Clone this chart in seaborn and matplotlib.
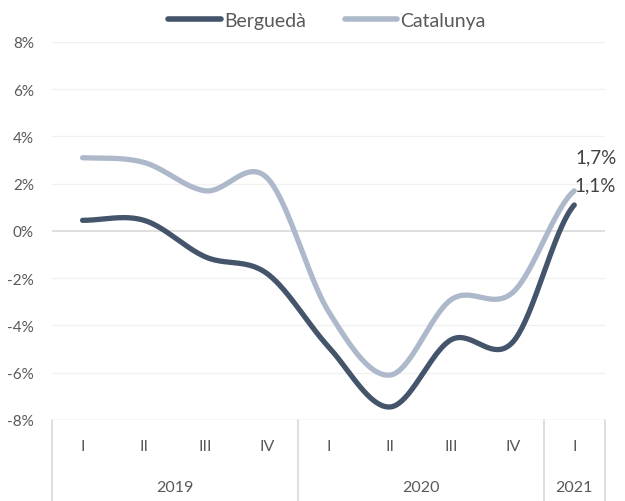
import numpy as np
import pandas as pd
import matplotlib
matplotlib.use("Agg")
import matplotlib.pyplot as plt
import seaborn as sns
from matplotlib.transforms import blended_transform_factory
from matplotlib.lines import Line2D

quarters = ["I", "II", "III", "IV", "I", "II", "III", "IV", "I"]
years = ["2019", "2020", "2021"]
year_counts = [4, 4, 1]
bergueda = [0.45, 0.45, -1.1, -1.8, -4.9, -7.45, -4.6, -4.7, 1.1]
catalunya = [3.1, 2.9, 1.7, 2.25, -3.4, -6.1, -2.9, -2.6, 1.7]
series_names = ["Berguedà", "Catalunya"]
colors = ["#44546A", "#ADB9CA"]
end_labels = ["1,1%", "1,7%"]
yticks = [-8, -6, -4, -2, 0, 2, 4, 6, 8]


def smooth(y, n=40):
    # Catmull-Rom style smoothing similar to Excel smoothed lines
    y = np.asarray(y, float)
    x = np.arange(len(y), dtype=float)
    xs, ys = [], []
    for i in range(len(y) - 1):
        p0 = y[i - 1] if i > 0 else y[i]
        p1, p2 = y[i], y[i + 1]
        p3 = y[i + 2] if i + 2 < len(y) else y[i + 1]
        t = np.linspace(0, 1, n, endpoint=(i == len(y) - 2))
        c1 = p1 + (p2 - p0) / 6
        c2 = p2 - (p3 - p1) / 6
        yy = (1 - t) ** 3 * p1 + 3 * (1 - t) ** 2 * t * c1 + 3 * (1 - t) * t ** 2 * c2 + t ** 3 * p2
        xs.append(x[i] + t)
        ys.append(yy)
    return np.concatenate(xs), np.concatenate(ys)


sns.set_theme(style="white")
plt.rcParams["font.family"] = ["Lato", "DejaVu Sans"]

fig = plt.figure(figsize=(6.25, 5.02), dpi=100)
ax = fig.add_axes([0.083, 0.1614, 0.885, 0.753])

frames = []
for name, vals in zip(series_names, [bergueda, catalunya]):
    xs, ys = smooth(vals)
    frames.append(pd.DataFrame({"x": xs, "y": ys, "serie": name}))
df = pd.concat(frames, ignore_index=True)

sns.lineplot(data=df, x="x", y="y", hue="serie", palette=colors, linewidth=3.8,
             ax=ax, sort=False, estimator=None, legend=False, zorder=3,
             solid_capstyle="round")

ax.set_xlim(-0.5, len(quarters) - 0.5)
ax.set_ylim(-8, 8)
ax.set_yticks(yticks)
ax.set_yticklabels([f"{v}%" for v in yticks], color="#595959", fontsize=11)
ax.tick_params(axis="y", length=0, pad=13)
ax.set_xticks([])
ax.set_xlabel("")
ax.set_ylabel("")
for s in ax.spines.values():
    s.set_visible(False)
for v in yticks:
    ax.axhline(v, color="#D9D9D9" if v in (0, -8) else "#F0F0F0", lw=1.2 if v == 0 else 1.0, zorder=1)

# end labels
ax.annotate(end_labels[1], (len(quarters) - 1, catalunya[-1]), xytext=(1, 24.5),
            textcoords="offset points", ha="left", va="center", fontsize=13.5, color="#404040")
ax.annotate(end_labels[0], (len(quarters) - 1, bergueda[-1]), xytext=(0, 14.5),
            textcoords="offset points", ha="left", va="center", fontsize=13.5, color="#404040")

# multilevel x axis
tr = blended_transform_factory(ax.transData, ax.transAxes)
for i, q in enumerate(quarters):
    ax.text(i, -0.069, q, transform=tr, ha="center", va="center", fontsize=11.5, color="#595959")
start = 0
bounds = [-0.5]
for yname, cnt in zip(years, year_counts):
    center = start + (cnt - 1) / 2
    ax.text(center, -0.177, yname, transform=tr, ha="center", va="center", fontsize=11.5, color="#595959")
    start += cnt
    bounds.append(start - 0.5)
for b in bounds:
    ax.plot([b, b], [0, -0.215], transform=tr, color="#D9D9D9", lw=1.2, clip_on=False)

# legend
handles = [Line2D([0], [0], color=c, lw=4, solid_capstyle="round") for c in colors]
fig.legend(handles, series_names, loc="center", bbox_to_anchor=(0.523, 0.957), ncol=2,
           frameon=False, fontsize=14, handlelength=2.7, handletextpad=0.15, columnspacing=2.0,
           labelcolor="#595959")

fig.savefig("out.png", dpi=100)
